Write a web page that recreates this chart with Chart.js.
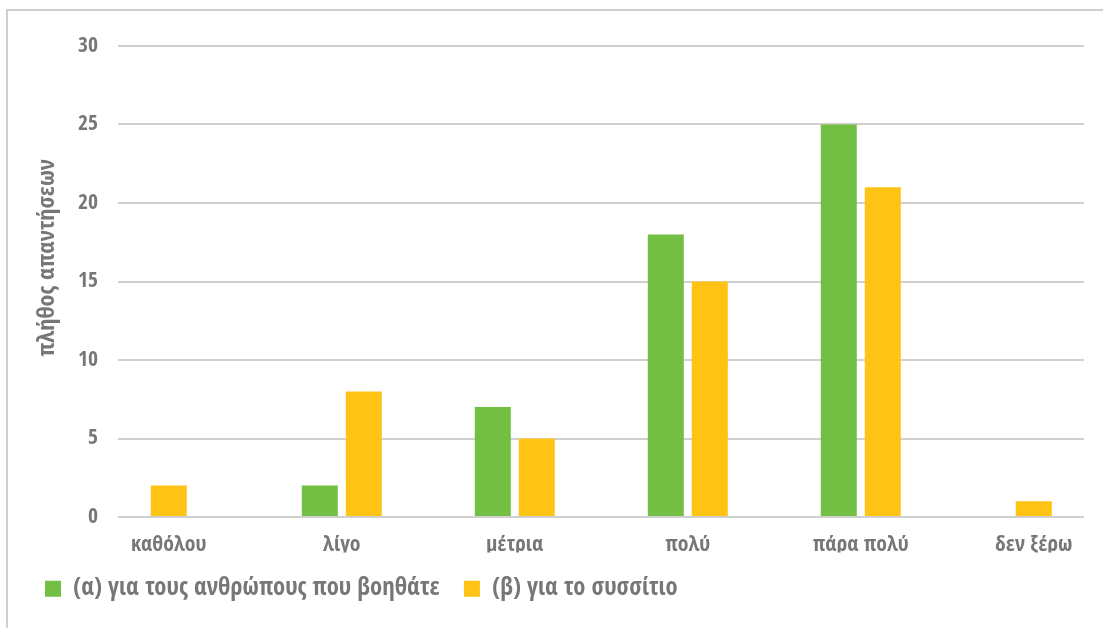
<!DOCTYPE html>
<html>
<head>
<meta charset="utf-8">
<script src="https://cdn.jsdelivr.net/npm/chart.js@4"></script>
<style>
  html, body { margin: 0; padding: 0; background: #ffffff; overflow: hidden; }
  #frame { position: absolute; left: 6px; top: 9px; width: 1300px; height: 800px;
           border-left: 2px solid #d0d0d0; border-top: 2px solid #d0d0d0; }
  #wrap { position: absolute; left: 0; top: 0; width: 1103px; height: 628px; }
</style>
</head>
<body>
<div id="frame"></div>
<div id="wrap"><canvas id="chart" width="1103" height="628"></canvas></div>
<script>
// ---- data ----
const categories = ['καθόλου', 'λίγο', 'μέτρια', 'πολύ', 'πάρα πολύ', 'δεν ξέρω'];
const seriesALabel = '(α) για τους ανθρώπους που βοηθάτε';
const seriesBLabel = '(β) για το συσσίτιο';
const seriesA = [null, 2, 7, 18, 25, null];
const seriesB = [2, 8, 5, 15, 21, 1];
const yTicks = [0, 5, 10, 15, 20, 25, 30];
const yTitle = 'πλήθος απαντήσεων';

// ---- style ----
const FONT = "'Open Sans Condensed', 'Liberation Sans Narrow', 'DejaVu Sans Condensed', sans-serif";
const TEXT = '#777777';
const GRID = '#d0d0d0';
const GREEN = '#72BF44';
const YELLOW = '#FEC314';

new Chart(document.getElementById('chart'), {
  type: 'bar',
  data: {
    labels: categories,
    datasets: [
      { label: seriesALabel, data: seriesA, backgroundColor: GREEN, borderWidth: 0 },
      { label: seriesBLabel, data: seriesB, backgroundColor: YELLOW, borderWidth: 0 }
    ]
  },
  options: {
    responsive: false,
    animation: false,
    events: [],
    skipNull: true,
    categoryPercentage: 0.5087,
    barPercentage: 0.818,
    maxBarThickness: 36,
    layout: { padding: { left: 21, top: 46, right: 19, bottom: 17 } },
    plugins: {
      tooltip: { enabled: false },
      title: { display: false },
      legend: {
        display: true,
        position: 'bottom',
        align: 'start',
        labels: {
          boxWidth: 16,
          boxHeight: 16,
          padding: 24,
          color: TEXT,
          font: { family: FONT, size: 24.6, weight: 'bold' }
        }
      }
    },
    scales: {
      x: {
        type: 'category',
        offset: true,
        grid: { display: false, drawTicks: false },
        border: { display: false },
        ticks: {
          color: TEXT,
          padding: 15,
          maxRotation: 0,
          autoSkip: false,
          font: { family: FONT, size: 21.7, weight: 'bold' }
        },
        afterBuildTicks: (scale) => {
          // spread categories so that first/last centres sit inside the plot like the original
          scale._valueRange = 5.5839;
          scale._startValue = -0.29366;
        },
        afterFit: (scale) => { scale.height = 35.4; }
      },
      y: {
        min: 0,
        max: 30,
        afterBuildTicks: (scale) => { scale.ticks = yTicks.map(v => ({ value: v })); },
        grid: { color: GRID, lineWidth: 2, drawTicks: false },
        border: { display: false },
        ticks: {
          color: TEXT,
          padding: 20,
          font: { family: FONT, size: 21.6, weight: 'bold' }
        },
        title: {
          display: true,
          text: '        ' + yTitle,
          color: TEXT,
          padding: { top: 12, bottom: 0 },
          font: { family: FONT, size: 24, weight: 'bold' }
        },
        afterFit: (scale) => { scale.width = 97; }
      }
    }
  }
});
</script>
</body>
</html>
